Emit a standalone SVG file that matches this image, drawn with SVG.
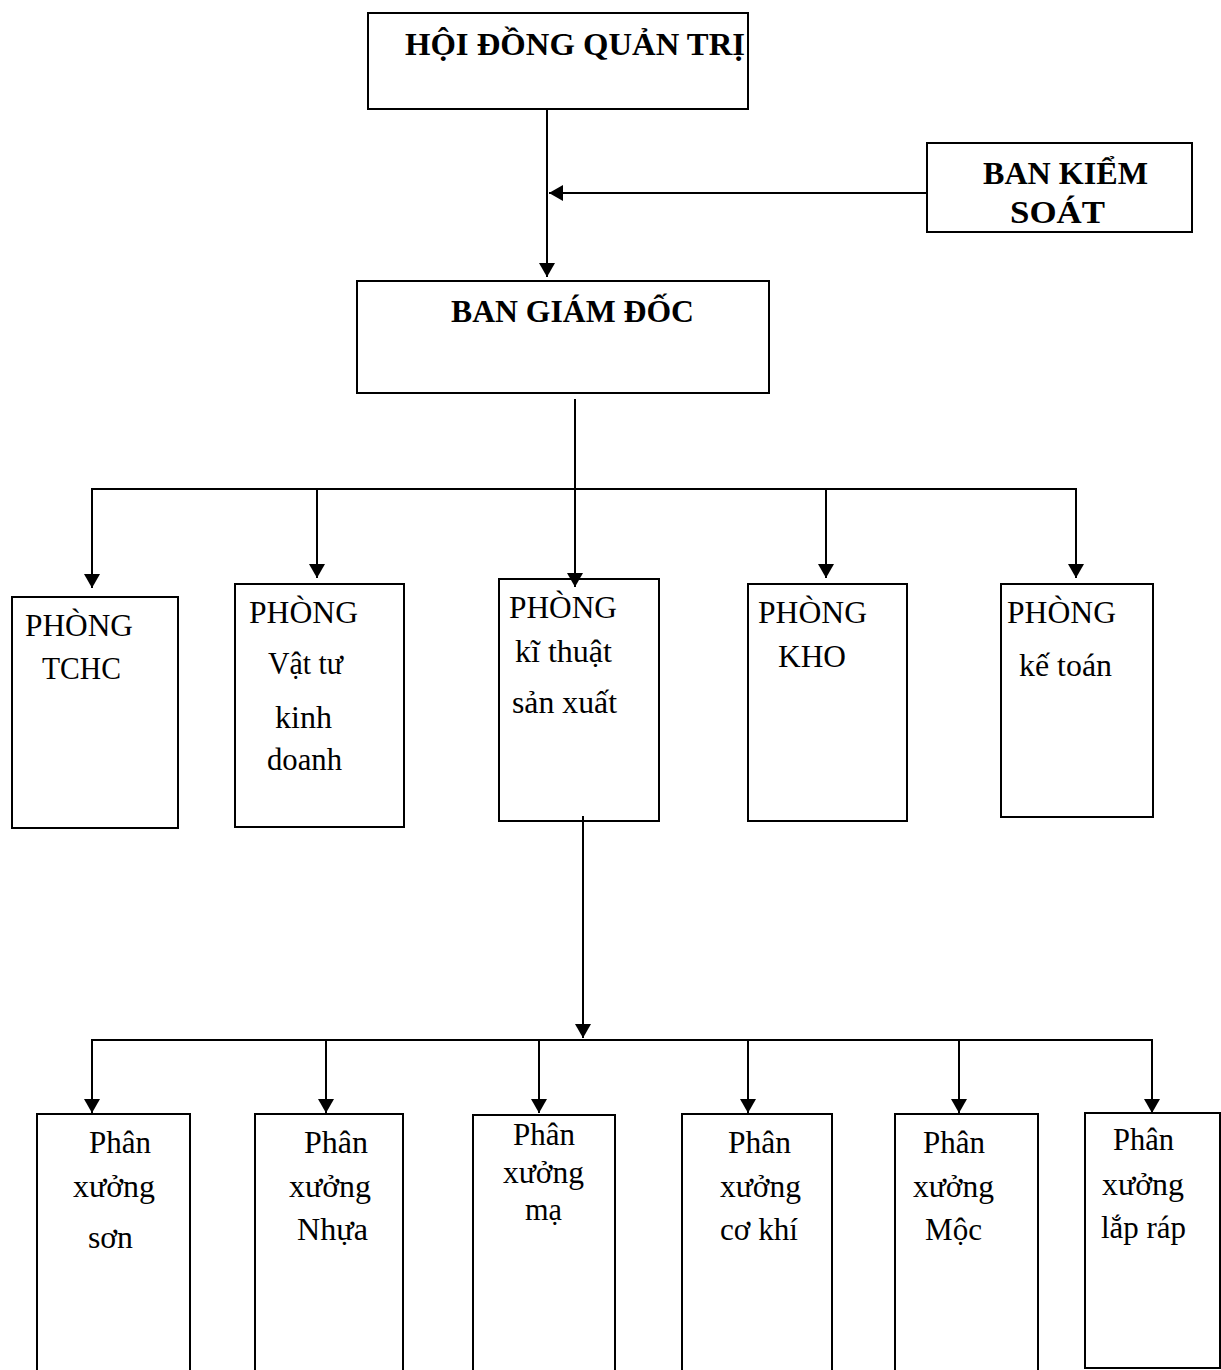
<svg xmlns="http://www.w3.org/2000/svg" width="1221" height="1370" viewBox="0 0 1221 1370">
<style>
.box{fill:#fff;stroke:#000;stroke-width:2}
.b{font-family:"Liberation Serif","Times New Roman",serif;font-weight:bold;font-size:31px;fill:#000}
.t{font-family:"Liberation Serif","Times New Roman",serif;font-size:31px;fill:#000}
.c{fill:none;stroke:#000;stroke-width:2}
</style>
<defs>
<marker id="ah" markerUnits="userSpaceOnUse" markerWidth="14" markerHeight="16" viewBox="0 0 14 16" refX="14" refY="8" orient="auto">
<path d="M0,0 L14,8 L0,16 z" fill="#000"/>
</marker>
</defs>
<rect width="1221" height="1370" fill="#fff"/>

<g id="hdqt">
<rect class="box" x="368" y="13" width="380" height="96"/>
<text class="b" x="405" y="55" textLength="340" lengthAdjust="spacingAndGlyphs">HỘI ĐỒNG QUẢN TRỊ</text>
</g>
<g id="bks">
<rect class="box" x="927" y="143" width="265" height="89"/>
<text class="b" x="983" y="184" textLength="165" lengthAdjust="spacingAndGlyphs">BAN KIỂM</text>
<text class="b" x="1010" y="223" textLength="95" lengthAdjust="spacingAndGlyphs">SOÁT</text>
</g>
<g id="bgd">
<rect class="box" x="357" y="281" width="412" height="112"/>
<text class="b" x="451" y="322" textLength="243" lengthAdjust="spacingAndGlyphs">BAN GIÁM ĐỐC</text>
</g>

<g id="p-tchc">
<rect class="box" x="12" y="597" width="166" height="231"/>
<text class="t" x="25" y="636" textLength="108" lengthAdjust="spacingAndGlyphs">PHÒNG</text>
<text class="t" x="42" y="679" textLength="79" lengthAdjust="spacingAndGlyphs">TCHC</text>
</g>
<g id="p-vattu">
<rect class="box" x="235" y="584" width="169" height="243"/>
<text class="t" x="249" y="623" textLength="109" lengthAdjust="spacingAndGlyphs">PHÒNG</text>
<text class="t" x="268" y="674" textLength="75" lengthAdjust="spacingAndGlyphs">Vật tư</text>
<text class="t" x="275" y="728" textLength="57" lengthAdjust="spacingAndGlyphs">kinh</text>
<text class="t" x="267" y="770" textLength="75" lengthAdjust="spacingAndGlyphs">doanh</text>
</g>
<g id="p-ktsx">
<rect class="box" x="499" y="579" width="160" height="242"/>
<text class="t" x="509" y="618" textLength="108" lengthAdjust="spacingAndGlyphs">PHÒNG</text>
<text class="t" x="515" y="662" textLength="97" lengthAdjust="spacingAndGlyphs">kĩ thuật</text>
<text class="t" x="512" y="713" textLength="105" lengthAdjust="spacingAndGlyphs">sản xuất</text>
</g>
<g id="p-kho">
<rect class="box" x="748" y="584" width="159" height="237"/>
<text class="t" x="758" y="623" textLength="109" lengthAdjust="spacingAndGlyphs">PHÒNG</text>
<text class="t" x="778" y="667" textLength="68" lengthAdjust="spacingAndGlyphs">KHO</text>
</g>
<g id="p-ketoan">
<rect class="box" x="1001" y="584" width="152" height="233"/>
<text class="t" x="1007" y="623" textLength="109" lengthAdjust="spacingAndGlyphs">PHÒNG</text>
<text class="t" x="1019" y="676" textLength="93" lengthAdjust="spacingAndGlyphs">kế toán</text>
</g>

<g id="x-son">
<rect class="box" x="37" y="1114" width="153" height="280"/>
<text class="t" x="89" y="1153" textLength="62" lengthAdjust="spacingAndGlyphs">Phân</text>
<text class="t" x="73" y="1197" textLength="82" lengthAdjust="spacingAndGlyphs">xưởng</text>
<text class="t" x="88" y="1248" textLength="45" lengthAdjust="spacingAndGlyphs">sơn</text>
</g>
<g id="x-nhua">
<rect class="box" x="255" y="1114" width="148" height="280"/>
<text class="t" x="304" y="1153" textLength="64" lengthAdjust="spacingAndGlyphs">Phân</text>
<text class="t" x="289" y="1197" textLength="82" lengthAdjust="spacingAndGlyphs">xưởng</text>
<text class="t" x="297" y="1240" textLength="71" lengthAdjust="spacingAndGlyphs">Nhựa</text>
</g>
<g id="x-ma">
<rect class="box" x="473" y="1115" width="142" height="280"/>
<text class="t" x="513" y="1145" textLength="62" lengthAdjust="spacingAndGlyphs">Phân</text>
<text class="t" x="503" y="1183" textLength="81" lengthAdjust="spacingAndGlyphs">xưởng</text>
<text class="t" x="525" y="1220" textLength="37" lengthAdjust="spacingAndGlyphs">mạ</text>
</g>
<g id="x-cokhi">
<rect class="box" x="682" y="1114" width="150" height="280"/>
<text class="t" x="728" y="1153" textLength="63" lengthAdjust="spacingAndGlyphs">Phân</text>
<text class="t" x="720" y="1197" textLength="81" lengthAdjust="spacingAndGlyphs">xưởng</text>
<text class="t" x="720" y="1240" textLength="78" lengthAdjust="spacingAndGlyphs">cơ khí</text>
</g>
<g id="x-moc">
<rect class="box" x="895" y="1114" width="143" height="280"/>
<text class="t" x="923" y="1153" textLength="62" lengthAdjust="spacingAndGlyphs">Phân</text>
<text class="t" x="913" y="1197" textLength="81" lengthAdjust="spacingAndGlyphs">xưởng</text>
<text class="t" x="925" y="1240" textLength="57" lengthAdjust="spacingAndGlyphs">Mộc</text>
</g>
<g id="x-laprap">
<rect class="box" x="1085" y="1113" width="135" height="255"/>
<text class="t" x="1113" y="1150" textLength="61" lengthAdjust="spacingAndGlyphs">Phân</text>
<text class="t" x="1102" y="1195" textLength="82" lengthAdjust="spacingAndGlyphs">xưởng</text>
<text class="t" x="1101" y="1238" textLength="85" lengthAdjust="spacingAndGlyphs">lắp ráp</text>
</g>

<g id="connectors">
<path class="c" d="M547,110 V277" marker-end="url(#ah)"/>
<path class="c" d="M927,193 H549" marker-end="url(#ah)"/>
<path class="c" d="M575,399 V587" marker-end="url(#ah)"/>
<path class="c" d="M92,489 H1077"/>
<path class="c" d="M92,488 V588" marker-end="url(#ah)"/>
<path class="c" d="M317,489 V578" marker-end="url(#ah)"/>
<path class="c" d="M826,489 V578" marker-end="url(#ah)"/>
<path class="c" d="M1076,488 V578" marker-end="url(#ah)"/>
<path class="c" d="M583,816 V1038" marker-end="url(#ah)"/>
<path class="c" d="M92,1040 H1153"/>
<path class="c" d="M92,1039 V1113" marker-end="url(#ah)"/>
<path class="c" d="M326,1040 V1113" marker-end="url(#ah)"/>
<path class="c" d="M539,1040 V1113" marker-end="url(#ah)"/>
<path class="c" d="M748,1040 V1113" marker-end="url(#ah)"/>
<path class="c" d="M959,1040 V1113" marker-end="url(#ah)"/>
<path class="c" d="M1152,1039 V1113" marker-end="url(#ah)"/>
</g>
</svg>
